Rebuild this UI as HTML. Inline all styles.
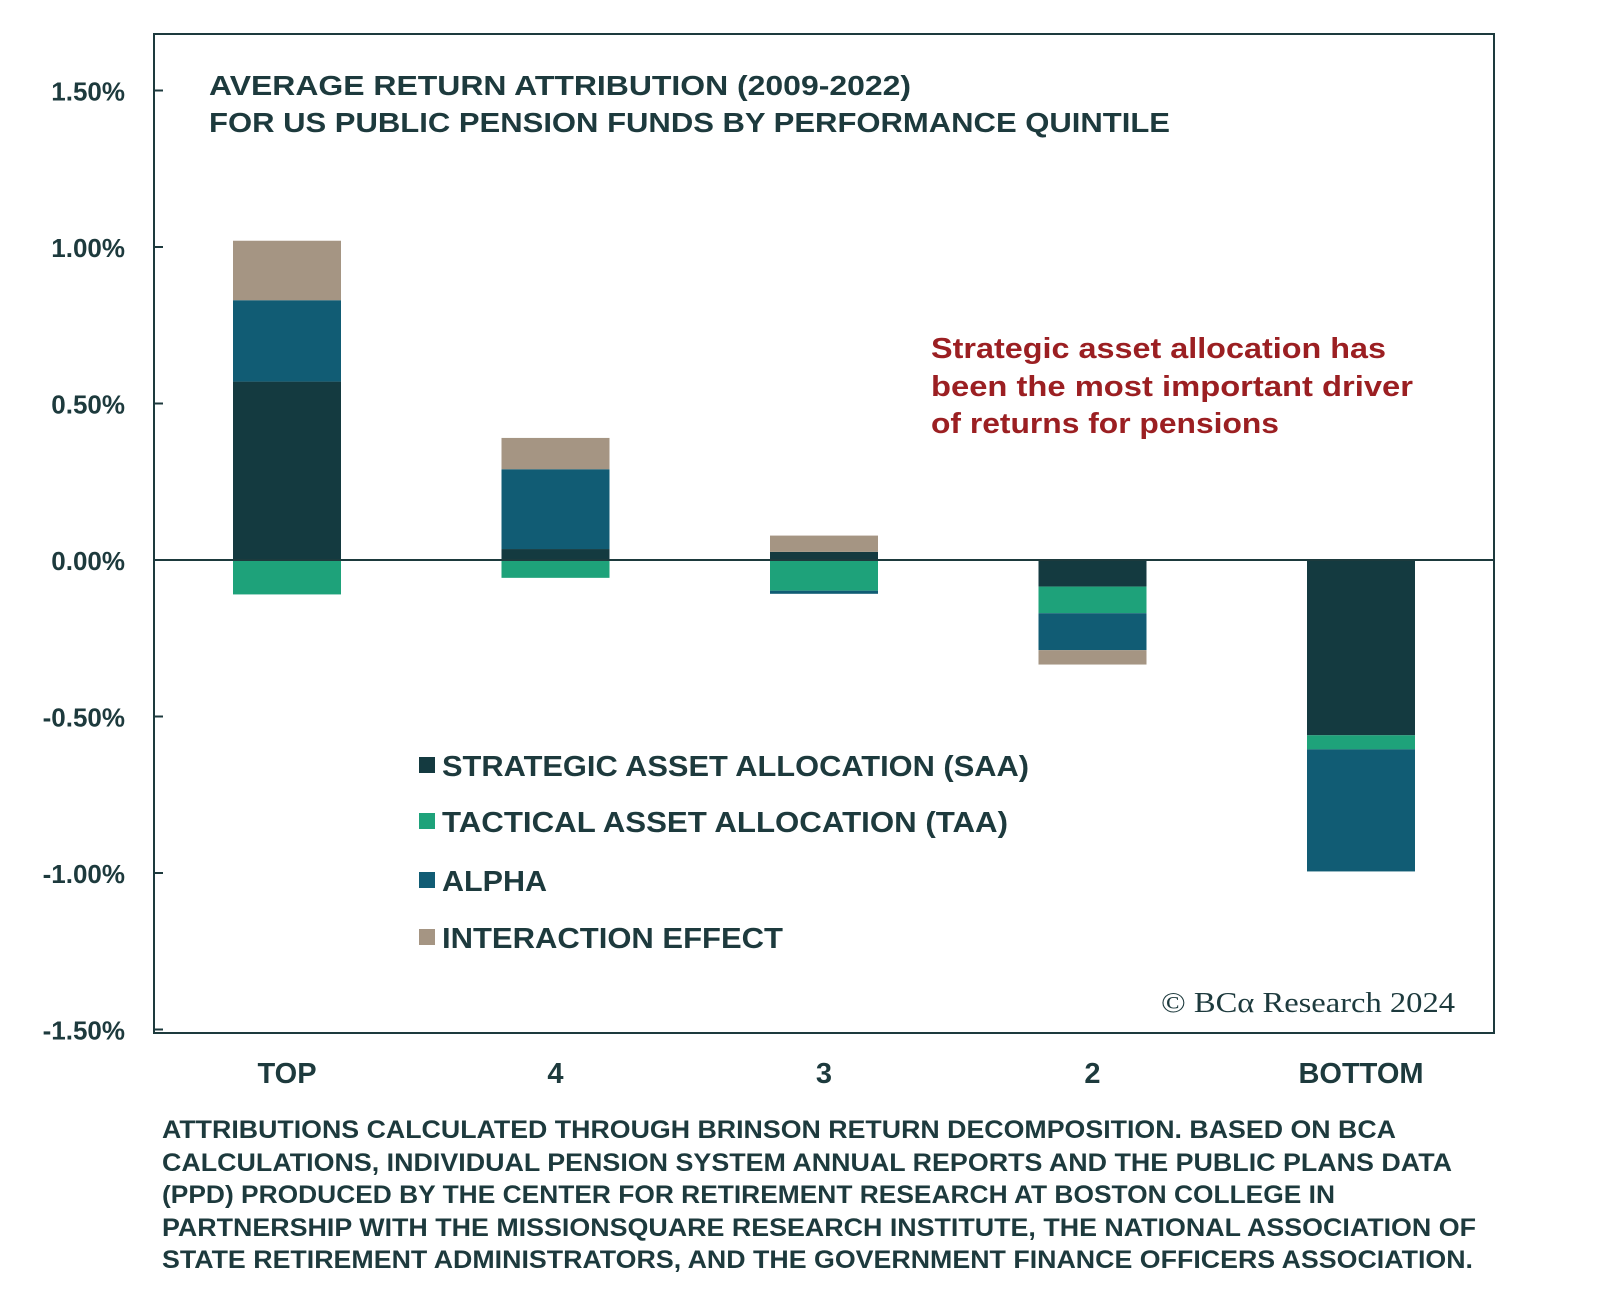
<!DOCTYPE html>
<html><head><meta charset="utf-8"><style>
html,body{margin:0;padding:0;background:#fff}
svg{display:block}
text{font-family:"Liberation Sans",sans-serif;fill:#1d3a3d}
</style></head><body>
<svg id="chart" width="1600" height="1304" viewBox="0 0 1600 1304" xmlns="http://www.w3.org/2000/svg">
<rect x="154" y="34" width="1340" height="999" fill="none" stroke="#1d3a3d" stroke-width="2"/>
<g id="bars"></g>
<g id="yaxis"></g>
<g id="xaxis"></g>
<text x="209" y="95" font-size="28" font-weight="bold" textLength="702" lengthAdjust="spacingAndGlyphs">AVERAGE RETURN ATTRIBUTION (2009-2022)</text>
<text x="209" y="132" font-size="28" font-weight="bold" textLength="961" lengthAdjust="spacingAndGlyphs">FOR US PUBLIC PENSION FUNDS BY PERFORMANCE QUINTILE</text>
<g font-weight="bold">
<text x="931" y="358" font-size="29" style="fill:#9b1f22" textLength="455" lengthAdjust="spacingAndGlyphs">Strategic asset allocation has</text>
<text x="931" y="396" font-size="29" style="fill:#9b1f22" textLength="482" lengthAdjust="spacingAndGlyphs">been the most important driver</text>
<text x="931" y="433" font-size="29" style="fill:#9b1f22" textLength="348" lengthAdjust="spacingAndGlyphs">of returns for pensions</text>
</g>
<g font-weight="bold">
<g><rect x="419" y="757" width="16" height="16" fill="#143a40"/><text x="442" y="776" font-size="29" textLength="587" lengthAdjust="spacingAndGlyphs">STRATEGIC ASSET ALLOCATION (SAA)</text></g>
<g><rect x="419" y="813" width="16" height="16" fill="#1ea27a"/><text x="442" y="832" font-size="29" textLength="566" lengthAdjust="spacingAndGlyphs">TACTICAL ASSET ALLOCATION (TAA)</text></g>
<g><rect x="419" y="872" width="16" height="16" fill="#115c74"/><text x="442" y="891" font-size="29" textLength="105" lengthAdjust="spacingAndGlyphs">ALPHA</text></g>
<g><rect x="419" y="929" width="16" height="16" fill="#a59583"/><text x="442" y="948" font-size="29" textLength="341" lengthAdjust="spacingAndGlyphs">INTERACTION EFFECT</text></g>
</g>
<text x="1161" y="1012" font-size="28" style="font-family:'Liberation Serif',serif" textLength="294" lengthAdjust="spacingAndGlyphs">© BCα Research 2024</text>
<g font-size="25" font-weight="bold">
<text x="162" y="1138" textLength="1234" lengthAdjust="spacingAndGlyphs">ATTRIBUTIONS CALCULATED THROUGH BRINSON RETURN DECOMPOSITION. BASED ON BCA</text>
<text x="162" y="1171" textLength="1290" lengthAdjust="spacingAndGlyphs">CALCULATIONS, INDIVIDUAL PENSION SYSTEM ANNUAL REPORTS AND THE PUBLIC PLANS DATA</text>
<text x="162" y="1203" textLength="1173" lengthAdjust="spacingAndGlyphs">(PPD) PRODUCED BY THE CENTER FOR RETIREMENT RESEARCH AT BOSTON COLLEGE IN</text>
<text x="162" y="1236" textLength="1314" lengthAdjust="spacingAndGlyphs">PARTNERSHIP WITH THE MISSIONSQUARE RESEARCH INSTITUTE, THE NATIONAL ASSOCIATION OF</text>
<text x="162" y="1268" textLength="1311" lengthAdjust="spacingAndGlyphs">STATE RETIREMENT ADMINISTRATORS, AND THE GOVERNMENT FINANCE OFFICERS ASSOCIATION.</text>
</g>
</svg>
<script>
const categories = ["TOP", "4", "3", "2", "BOTTOM"];
const saa = [0.57, 0.035, 0.026, -0.085, -0.56];
const taa = [-0.11, -0.057, -0.098, -0.085, -0.045];
const alpha = [0.26, 0.255, -0.01, -0.118, -0.39];
const interaction = [0.19, 0.10, 0.052, -0.046, 0];
const yTicks = [1.5, 1.0, 0.5, 0, -0.5, -1.0, -1.5];
const yTickLabels = ["1.50%", "1.00%", "0.50%", "0.00%", "-0.50%", "-1.00%", "-1.50%"];

const NS = "http://www.w3.org/2000/svg";
const y = v => 560 - v * 313;
const xc = i => 287 + i * 268.5;
const barW = 108;
const series = [
  {name: "saa", vals: saa, color: "#143a40"},
  {name: "taa", vals: taa, color: "#1ea27a"},
  {name: "alpha", vals: alpha, color: "#115c74"},
  {name: "interaction", vals: interaction, color: "#a59583"}
];
const gb = document.getElementById("bars");
categories.forEach((c, i) => {
  let pos = 0, neg = 0;
  series.forEach(s => {
    const v = s.vals[i];
    if (!v) return;
    let a, b;
    if (v >= 0) { a = pos; b = pos + v; pos = b; } else { a = neg; b = neg + v; neg = b; }
    const r = document.createElementNS(NS, "rect");
    r.setAttribute("x", xc(i) - barW / 2);
    r.setAttribute("width", barW);
    r.setAttribute("y", Math.min(y(a), y(b)));
    r.setAttribute("height", Math.abs(y(a) - y(b)));
    r.setAttribute("fill", s.color);
    
    
    gb.appendChild(r);
  });
  const t = document.createElementNS(NS, "text");
  t.setAttribute("x", xc(i));
  t.setAttribute("y", 1083);
  t.setAttribute("text-anchor", "middle");
  t.setAttribute("font-size", "29");
  t.setAttribute("font-weight", "bold");
  t.textContent = c;
  
  
  document.getElementById("xaxis").appendChild(t);
});
const zl = document.createElementNS(NS, "line");
zl.setAttribute("x1", 154); zl.setAttribute("x2", 1494);
zl.setAttribute("y1", y(0)); zl.setAttribute("y2", y(0));
zl.setAttribute("stroke", "#1d3a3d"); zl.setAttribute("stroke-width", "2");


gb.appendChild(zl);
const gy = document.getElementById("yaxis");
yTicks.forEach((v, k) => {
  const l = document.createElementNS(NS, "line");
  l.setAttribute("x1", 154); l.setAttribute("x2", 163);
  l.setAttribute("y1", y(v)); l.setAttribute("y2", y(v));
  l.setAttribute("stroke", "#1d3a3d"); l.setAttribute("stroke-width", "2");
  
  
  gy.appendChild(l);
  const t = document.createElementNS(NS, "text");
  t.setAttribute("x", 125); t.setAttribute("y", y(v) + 10);
  t.setAttribute("text-anchor", "end");
  t.setAttribute("font-size", "26");
  t.setAttribute("font-weight", "bold");
  t.textContent = yTickLabels[k];
  
  
  gy.appendChild(t);
});
</script>
</body></html>
